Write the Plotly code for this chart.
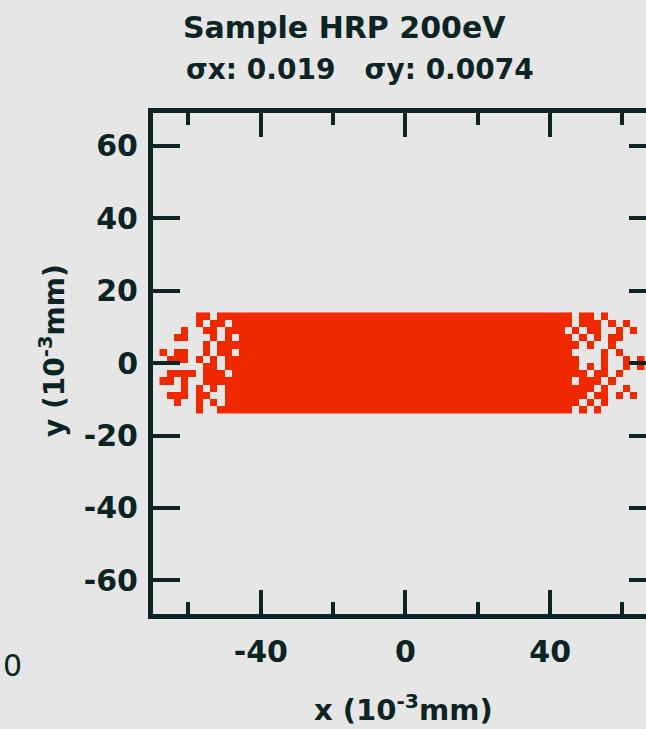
import plotly.graph_objects as go

# ---- data ----
title_text = "Sample HRP 200eV"
sigma_x = "0.019"
sigma_y = "0.0074"

x_ticks_major = [-40, 0, 40]
x_tick_text = ["-40", "0", "40"]
y_ticks = [-60, -40, -20, 0, 20, 40, 60]
y_tick_text = ["-60", "-40", "-20", "0", "20", "40", "60"]

# occupancy grid of the scatter cloud, 2 x 2 (10^-3 mm) cells
col_centers = [-67 + 2 * i for i in range(67)]          # x = -67 .. 65
row_centers = [13, 11, 9, 7, 5, 3, 1, -1, -3, -5, -7, -9, -11, -13]

left_part = [
    ".....##.#####",
    ".....#.##.###",
    "...#..##.####",
    "..##...#.#.##",
    "......#.#####",
    "#.##..#.##.##",
    ".###.#.#.####",
    "......##.####",
    ".####.###.###",
    "##.#..#######",
    "...#.#.#.####",
    ".###.##..####",
    "..#..#.#.####",
    ".....#..#####",
]
core_part = ["#" * 37] * 14
right_part = [
    "#######.##.#.....",
    "#######.###.#.#..",
    "######.#.##..#.#.",
    "#######.#.#.##...",
    "########.#..#....",
    "#######....#.#...",
    "########...#..#.#",
    "########.#.#..#.#",
    "#########.##.#...",
    "#######.###.#....",
    "##########.#..#..",
    "#########.##.#.#.",
    "########.#.#.....",
    "#######.#.#......",
]

grid = [l + c + r for l, c, r in zip(left_part, core_part, right_part)]
z = [[1 if ch == "#" else None for ch in row] for row in grid]

# ---- styling ----
BG = "#e6e6e6"
INK = "#0c2424"
RED = "#ef2800"
FONT = "DejaVu Sans"

fig = go.Figure()
fig.add_trace(go.Heatmap(
    x=col_centers, y=row_centers, z=z,
    colorscale=[[0, RED], [1, RED]], showscale=False,
    hoverinfo="skip",
))
fig.add_trace(go.Scatter(x=[], y=[], yaxis="y2", showlegend=False))

XR = [-69.8, 66.5]
YR = [-69.3, 69.1]

fig.update_layout(
    width=646, height=729,
    margin=dict(l=153, r=0, t=113, b=115),
    paper_bgcolor=BG, plot_bgcolor=BG,
    showlegend=False,
    font=dict(family=FONT, color=INK, size=30, weight="bold"),
    xaxis=dict(
        range=XR, tickvals=x_ticks_major, ticktext=x_tick_text,
        showgrid=False, zeroline=False,
        showline=True, linecolor=INK, linewidth=5, mirror="ticks",
        ticks="inside", ticklen=24, tickwidth=4, tickcolor=INK,
        minor=dict(dtick=20, tick0=0, ticks="inside", ticklen=12, tickwidth=4, tickcolor=INK, showgrid=False),
        tickfont=dict(family=FONT, size=30, color=INK, weight="bold"),
        ticklabelstandoff=7,
    ),
    yaxis=dict(
        range=YR, tickvals=y_ticks, ticktext=y_tick_text,
        showgrid=False, zeroline=False,
        showline=True, linecolor=INK, linewidth=5, mirror=False,
        ticks="inside", ticklen=27, tickwidth=4, tickcolor=INK,
        tickfont=dict(family=FONT, size=30, color=INK, weight="bold"),
        ticklabelstandoff=4,
    ),
    yaxis2=dict(
        range=YR, tickvals=y_ticks, overlaying="y", side="right",
        showgrid=False, zeroline=False, showline=False,
        ticks="inside", ticklen=17, tickwidth=4, tickcolor=INK,
        showticklabels=False,
    ),
)

def ann(text, px, py, size=30, angle=0, weight="bold", xanchor="center"):
    fig.add_annotation(
        text=text, xref="paper", yref="paper",
        x=(px - 153) / 493, y=(614 - py) / 501,
        xanchor=xanchor, yanchor="middle", showarrow=False, textangle=angle,
        font=dict(family=FONT, size=size, color=INK, weight=weight),
    )

ann(title_text, 344, 28, size=30)
ann(f"σx: {sigma_x}&nbsp;&nbsp;&nbsp;σy: {sigma_y}", 360, 70, size=28)
ann("y (10<sup>-3</sup>mm)", 52, 351, size=28, angle=-90)
ann("x (10<sup>-3</sup>mm)", 403, 708, size=29)
ann("0", 1, 665, size=30, weight="normal", xanchor="left")

fig.write_html("out.html")
